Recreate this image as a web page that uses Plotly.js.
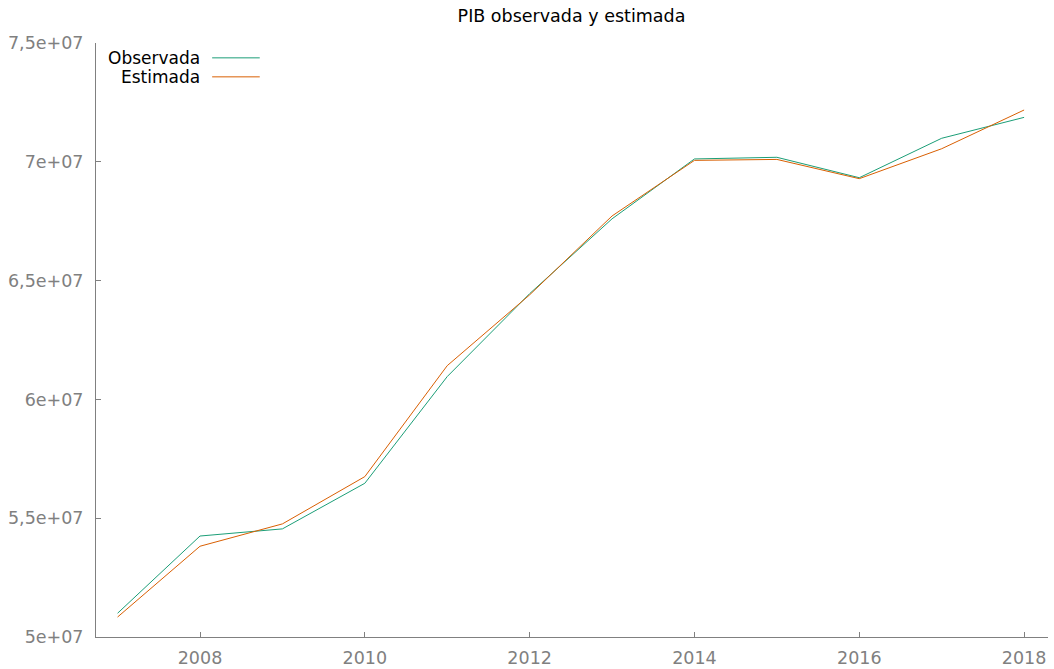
<!DOCTYPE html>
<html>
<head>
<meta charset="utf-8">
<script src="https://cdn.plot.ly/plotly-3.0.1.min.js"></script>
<style>
  html, body { margin: 0; padding: 0; background: #fff; }
  #chart { width: 1054px; height: 669px; }
</style>
</head>
<body>
<div id="chart"></div>
<script>
// Años de la serie
const years = [2007, 2008, 2009, 2010, 2011, 2012, 2013, 2014, 2015, 2016, 2017, 2018];

// PIB observado
const observada = [5.100e7, 5.425e7, 5.455e7, 5.647e7, 6.096e7, 6.445e7, 6.760e7, 7.012e7, 7.019e7, 6.933e7, 7.099e7, 7.187e7];

// PIB estimado por el modelo
const estimada = [5.084e7, 5.382e7, 5.476e7, 5.675e7, 6.142e7, 6.440e7, 6.772e7, 7.006e7, 7.010e7, 6.929e7, 7.055e7, 7.218e7];

// Marcas del eje vertical (coma decimal)
const yTickVals = [5.0e7, 5.5e7, 6.0e7, 6.5e7, 7.0e7, 7.5e7];
const yTickText = ['5e+07', '5,5e+07', '6e+07', '6,5e+07', '7e+07', '7,5e+07'];

// Marcas del eje horizontal
const xTickVals = [2008, 2010, 2012, 2014, 2016, 2018];

const seriesNames = ['Observada', 'Estimada'];
const colors = ['#1b9e77', '#d95f02'];

const font = 'DejaVu Sans, Verdana, sans-serif';
const fs = 17.5;

const traces = [
  { x: years, y: observada, name: seriesNames[0], type: 'scatter', mode: 'lines',
    line: { color: colors[0], width: 1 } },
  { x: years, y: estimada, name: seriesNames[1], type: 'scatter', mode: 'lines',
    line: { color: colors[1], width: 1 } }
];

// Leyenda a la izquierda del trazo, texto alineado a la derecha
const legendX = 0.1115;   // borde derecho del texto (papel)
const lineX0 = 0.122, lineX1 = 0.172;
const legendY = [0.975, 0.943];

const annotations = seriesNames.map((n, i) => ({
  xref: 'paper', yref: 'paper', x: legendX, y: legendY[i],
  xanchor: 'right', yanchor: 'middle', text: n, showarrow: false,
  font: { family: font, size: 17, color: '#000' }
}));
const shapes = colors.map((c, i) => ({
  type: 'line', xref: 'paper', yref: 'paper',
  x0: lineX0, x1: lineX1, y0: legendY[i], y1: legendY[i],
  line: { color: c, width: 1 }
}));

const layout = {
  width: 1054, height: 669,
  margin: { l: 96, r: 6, t: 43, b: 32 },
  paper_bgcolor: '#fff', plot_bgcolor: '#fff',
  showlegend: false,
  title: { text: 'PIB observada y estimada', x: 0.5422, xanchor: 'center', y: 0.977, yanchor: 'middle',
           font: { family: font, size: fs, color: '#000' } },
  xaxis: {
    range: [2006.738, 2018.29],
    tickvals: xTickVals, ticktext: xTickVals.map(String),
    ticks: 'inside', ticklen: 5, tickcolor: '#808080',
    showline: true, linecolor: '#808080', linewidth: 1,
    showgrid: false, zeroline: false,
    ticklabelstandoff: 5,
    tickfont: { family: font, size: fs, color: '#808080' }
  },
  yaxis: {
    range: [5.0e7, 7.5e7],
    tickvals: yTickVals, ticktext: yTickText,
    ticks: 'inside', ticklen: 5, tickcolor: '#808080',
    showline: true, linecolor: '#808080', linewidth: 1,
    showgrid: false, zeroline: false,
    ticklabelstandoff: 8,
    tickfont: { family: font, size: fs, color: '#808080' }
  },
  annotations: annotations,
  shapes: shapes
};

Plotly.newPlot('chart', traces, layout, { displayModeBar: false, staticPlot: true });
</script>
</body>
</html>
